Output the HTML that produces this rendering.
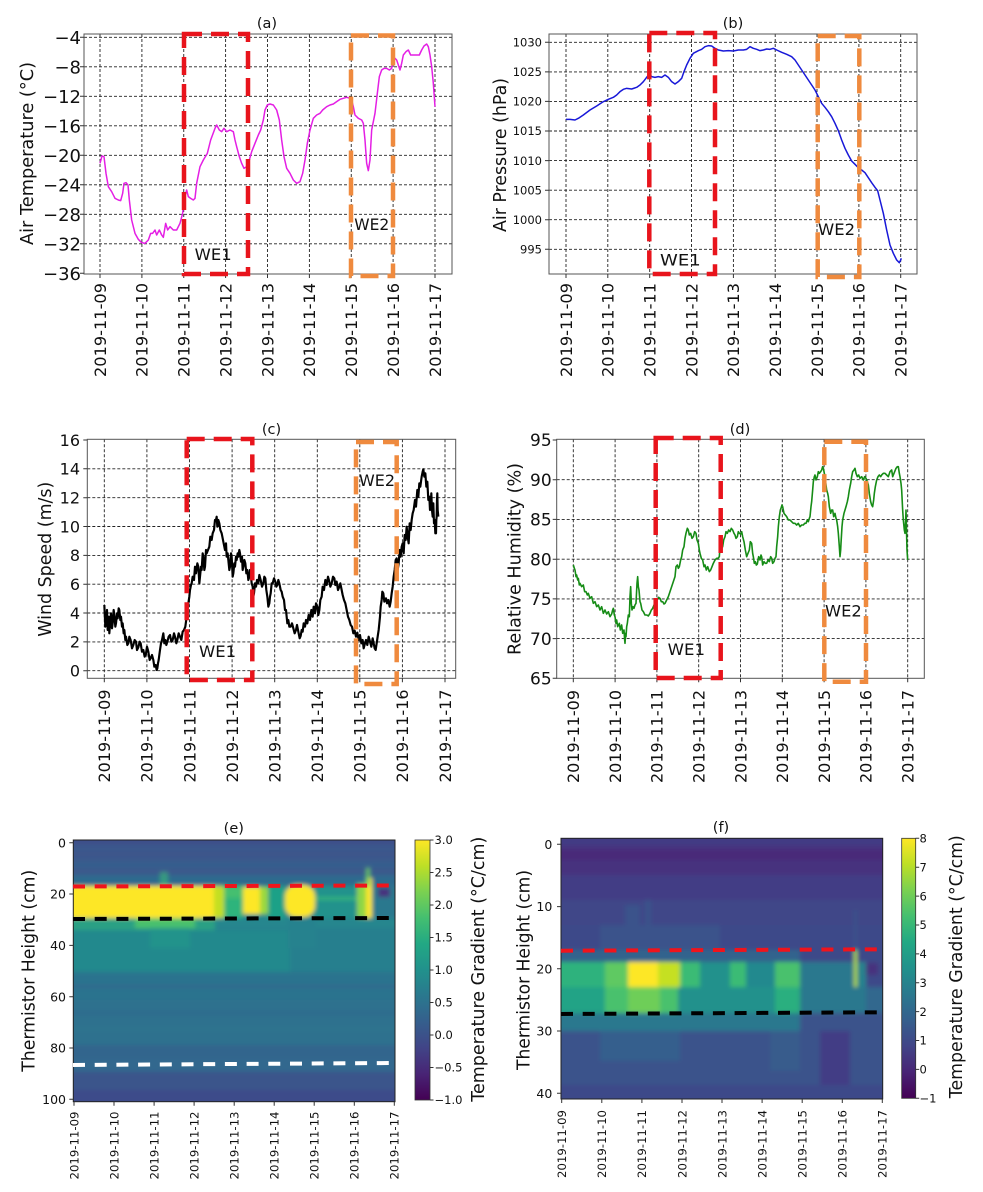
<!DOCTYPE html>
<html><head><meta charset="utf-8"><style>
html,body{margin:0;padding:0;background:#fff}
svg{display:block}
text{font-family:"DejaVu Sans","Liberation Sans",sans-serif;fill:#111}
</style></head><body>
<svg width="983" height="1192" viewBox="0 0 983 1192" xmlns="http://www.w3.org/2000/svg">
<defs>
<linearGradient id="vir" x1="0" y1="0" x2="0" y2="1">
<stop offset="0" stop-color="#fde725"/><stop offset="0.1" stop-color="#bddf26"/><stop offset="0.2" stop-color="#7ad151"/><stop offset="0.3" stop-color="#44bf70"/><stop offset="0.4" stop-color="#22a884"/><stop offset="0.5" stop-color="#21918c"/><stop offset="0.6" stop-color="#2a788e"/><stop offset="0.7" stop-color="#355f8d"/><stop offset="0.8" stop-color="#414487"/><stop offset="0.9" stop-color="#482475"/><stop offset="1" stop-color="#440154"/>
</linearGradient>
<clipPath id="ce"><rect x="73.3" y="840" width="321.7" height="261.7"/></clipPath>
<clipPath id="cf"><rect x="561" y="838.3" width="321.7" height="260.7"/></clipPath>
<filter id="bl" x="-5%" y="-5%" width="110%" height="110%"><feGaussianBlur stdDeviation="2.2"/></filter>
</defs>
<rect width="983" height="1192" fill="#fff"/>

<!-- ================= (a) ================= -->
<g>
<path d="M100 34V274M141.9 34V274M183.75 34V274M225.6 34V274M267.5 34V274M309.4 34V274M351.25 34V274M393.1 34V274M435 34V274M84 37.3H452M84 66.8H452M84 96.3H452M84 125.8H452M84 155.3H452M84 184.8H452M84 214.3H452M84 243.8H452" stroke="#222" stroke-width="0.9" stroke-dasharray="3,2" fill="none"/>
<polyline transform="scale(0.33333)" fill="none" stroke="#e41fe4" stroke-width="4.5" stroke-linejoin="round" points="300,490 306,468 312,470 318,520 325,560 335,575 345,595 355,600 362,602 368,580 372,550 378,548 384,555 388,600 395,660 405,700 415,718 425,728 435,730 445,720 452,700 458,700 465,690 470,705 478,690 485,705 490,712 497,670 503,690 510,680 520,690 530,690 540,670 548,640 552,600 560,570 565,590 572,595 580,600 585,595 590,550 600,500 610,480 622,460 632,420 645,385 650,375 658,390 665,395 672,385 680,395 690,390 700,395 705,420 710,440 718,470 725,490 732,505 740,500 748,480 755,455 765,430 775,405 782,390 790,360 795,330 802,315 810,312 820,315 830,330 838,360 845,420 852,470 860,505 870,520 880,540 890,550 900,545 908,520 915,480 922,430 930,390 940,355 950,345 960,340 968,330 980,320 990,315 1000,312 1010,305 1020,298 1030,295 1040,292 1050,295 1055,300 1060,320 1065,345 1075,355 1085,360 1090,370 1095,420 1100,490 1105,512 1110,480 1115,390 1125,340 1132,280 1138,230 1145,210 1152,205 1160,205 1168,210 1175,205 1180,180 1185,175 1190,180 1195,195 1200,210 1205,190 1210,165 1218,155 1225,150 1232,165 1240,165 1250,165 1258,165 1265,150 1272,138 1280,132 1285,140 1290,165 1295,200 1300,250 1305,320"/>
<rect x="84" y="34" width="368" height="240" fill="none" stroke="#555" stroke-width="1"/>
<path d="M100 274v4M141.9 274v4M183.75 274v4M225.6 274v4M267.5 274v4M309.4 274v4M351.25 274v4M393.1 274v4M435 274v4M84 37.3h-4M84 66.8h-4M84 96.3h-4M84 125.8h-4M84 155.3h-4M84 184.8h-4M84 214.3h-4M84 243.8h-4M84 273.3h-4" stroke="#333" stroke-width="1"/>
<rect x="184" y="34" width="64" height="240" fill="none" stroke="#e8141c" stroke-width="4.5" stroke-dasharray="18,9"/>
<rect x="351" y="35.5" width="42" height="240.5" fill="none" stroke="#ef8a3e" stroke-width="4.5" stroke-dasharray="18,9"/>
<g font-size="18" text-anchor="end">
<text x="81" y="43.9">−4</text><text x="81" y="73.4">−8</text><text x="81" y="102.9">−12</text><text x="81" y="132.4">−16</text><text x="81" y="161.9">−20</text><text x="81" y="191.4">−24</text><text x="81" y="220.9">−28</text><text x="81" y="250.4">−32</text><text x="81" y="279.9">−36</text>
</g>
<g font-size="16" text-anchor="end">
<text transform="translate(105.8,283) rotate(-90)" textLength="94" lengthAdjust="spacingAndGlyphs">2019-11-09</text>
<text transform="translate(147.7,283) rotate(-90)" textLength="94" lengthAdjust="spacingAndGlyphs">2019-11-10</text>
<text transform="translate(189.5,283) rotate(-90)" textLength="94" lengthAdjust="spacingAndGlyphs">2019-11-11</text>
<text transform="translate(231.4,283) rotate(-90)" textLength="94" lengthAdjust="spacingAndGlyphs">2019-11-12</text>
<text transform="translate(273.3,283) rotate(-90)" textLength="94" lengthAdjust="spacingAndGlyphs">2019-11-13</text>
<text transform="translate(315.2,283) rotate(-90)" textLength="94" lengthAdjust="spacingAndGlyphs">2019-11-14</text>
<text transform="translate(357,283) rotate(-90)" textLength="94" lengthAdjust="spacingAndGlyphs">2019-11-15</text>
<text transform="translate(398.9,283) rotate(-90)" textLength="94" lengthAdjust="spacingAndGlyphs">2019-11-16</text>
<text transform="translate(440.8,283) rotate(-90)" textLength="94" lengthAdjust="spacingAndGlyphs">2019-11-17</text>
</g>
<text transform="translate(33,153.5) rotate(-90)" font-size="17.5" text-anchor="middle" textLength="183" lengthAdjust="spacingAndGlyphs">Air Temperature (°C)</text>
<text x="267" y="28" font-size="14.5" text-anchor="middle">(a)</text>
<text x="194.7" y="260" font-size="16" textLength="37" lengthAdjust="spacingAndGlyphs">WE1</text>
<text x="354.3" y="230" font-size="16" textLength="35" lengthAdjust="spacingAndGlyphs">WE2</text>
</g>

<!-- ================= (b) ================= -->
<g>
<path d="M566 34V274M607.8 34V274M649.7 34V274M691.5 34V274M733.4 34V274M775.2 34V274M817 34V274M858.9 34V274M900.7 34V274M549 42.3H917M549 71.9H917M549 101.4H917M549 131H917M549 160.6H917M549 190.2H917M549 219.7H917M549 249.3H917" stroke="#222" stroke-width="0.9" stroke-dasharray="3,2" fill="none"/>
<polyline transform="translate(480,0) scale(0.33333)" fill="none" stroke="#1818d8" stroke-width="4.5" stroke-linejoin="round" points="258,358 270,358 285,360 295,355 310,345 330,330 350,318 370,305 385,298 400,292 410,285 420,275 430,268 440,265 455,267 470,262 480,255 490,245 500,232 508,222 515,230 525,232 535,230 545,232 555,225 565,232 575,245 585,252 595,245 605,235 612,215 620,195 630,175 640,160 655,152 665,148 675,140 685,137 695,138 705,145 715,150 730,153 745,152 760,153 775,150 790,150 800,148 810,140 820,145 830,148 840,152 850,150 860,147 870,148 880,145 890,150 905,157 920,163 935,170 945,180 955,195 965,210 975,225 985,240 995,255 1005,270 1015,290 1025,310 1035,322 1045,335 1055,350 1065,370 1075,392 1085,420 1095,445 1105,465 1115,483 1125,493 1135,503 1145,510 1155,518 1165,533 1175,548 1185,562 1193,572 1200,600 1210,640 1220,690 1230,735 1240,760 1250,780 1258,788 1262,780 1264,775"/>
<rect x="549" y="34" width="368" height="240" fill="none" stroke="#555" stroke-width="1"/>
<path d="M566 274v4M607.8 274v4M649.7 274v4M691.5 274v4M733.4 274v4M775.2 274v4M817 274v4M858.9 274v4M900.7 274v4M549 42.3h-4M549 71.9h-4M549 101.4h-4M549 131h-4M549 160.6h-4M549 190.2h-4M549 219.7h-4M549 249.3h-4" stroke="#333" stroke-width="1"/>
<rect x="649.3" y="33" width="65.7" height="241" fill="none" stroke="#e8141c" stroke-width="4.5" stroke-dasharray="18,9"/>
<rect x="817.7" y="36" width="41.6" height="241" fill="none" stroke="#ef8a3e" stroke-width="4.5" stroke-dasharray="18,9"/>
<g font-size="11.5" text-anchor="end">
<text x="542" y="46.5">1030</text><text x="542" y="76.1">1025</text><text x="542" y="105.6">1020</text><text x="542" y="135.2">1015</text><text x="542" y="164.8">1010</text><text x="542" y="194.4">1005</text><text x="542" y="223.9">1000</text><text x="542" y="253.5">995</text>
</g>
<g font-size="16" text-anchor="end">
<text transform="translate(571.8,283) rotate(-90)" textLength="94" lengthAdjust="spacingAndGlyphs">2019-11-09</text>
<text transform="translate(613.6,283) rotate(-90)" textLength="94" lengthAdjust="spacingAndGlyphs">2019-11-10</text>
<text transform="translate(655.5,283) rotate(-90)" textLength="94" lengthAdjust="spacingAndGlyphs">2019-11-11</text>
<text transform="translate(697.3,283) rotate(-90)" textLength="94" lengthAdjust="spacingAndGlyphs">2019-11-12</text>
<text transform="translate(739.2,283) rotate(-90)" textLength="94" lengthAdjust="spacingAndGlyphs">2019-11-13</text>
<text transform="translate(781,283) rotate(-90)" textLength="94" lengthAdjust="spacingAndGlyphs">2019-11-14</text>
<text transform="translate(822.8,283) rotate(-90)" textLength="94" lengthAdjust="spacingAndGlyphs">2019-11-15</text>
<text transform="translate(864.7,283) rotate(-90)" textLength="94" lengthAdjust="spacingAndGlyphs">2019-11-16</text>
<text transform="translate(906.5,283) rotate(-90)" textLength="94" lengthAdjust="spacingAndGlyphs">2019-11-17</text>
</g>
<text transform="translate(506,155) rotate(-90)" font-size="17.5" text-anchor="middle" textLength="154" lengthAdjust="spacingAndGlyphs">Air Pressure (hPa)</text>
<text x="733" y="28" font-size="14.5" text-anchor="middle">(b)</text>
<text x="660" y="265.5" font-size="16" textLength="40.7" lengthAdjust="spacingAndGlyphs">WE1</text>
<text x="818" y="235" font-size="16" textLength="37" lengthAdjust="spacingAndGlyphs">WE2</text>
</g>

<!-- ================= (c) ================= -->
<g>
<path d="M104.3 439.3V678.3M146.9 439.3V678.3M189.5 439.3V678.3M232.1 439.3V678.3M274.7 439.3V678.3M317.3 439.3V678.3M359.8 439.3V678.3M402.4 439.3V678.3M445 439.3V678.3M87.3 468.8H455.7M87.3 497.7H455.7M87.3 526.5H455.7M87.3 555.4H455.7M87.3 584.2H455.7M87.3 613H455.7M87.3 641.9H455.7M87.3 670.7H455.7" stroke="#222" stroke-width="0.9" stroke-dasharray="3,2" fill="none"/>
<polyline transform="translate(0,410) scale(0.33333)" fill="none" stroke="#000" stroke-width="6.5" stroke-linejoin="round" points="313,585 316,650 318,640 321,600 323,660 326,620 328,670 331,630 333,610 336,655 338,640 341,600 343,615 346,650 348,640 351,610 353,625 356,595 358,600 361,630 363,620 366,650 368,640 371,670 373,660 376,690 378,680 382,705 385,700 388,680 392,690 396,715 400,705 404,690 408,695 411,720 415,712 419,695 422,700 426,725 430,720 434,740 438,730 441,710 445,725 449,750 452,745 456,735 460,750 463,770 467,765 470,780 472,775 474,760 476,750 478,735 480,720 483,700 486,690 488,680 490,670 493,700 496,690 499,705 502,695 506,680 510,675 514,695 518,690 522,670 525,680 529,700 532,690 536,670 540,680 544,690 548,665 552,660 556,650 558,635 560,620 563,590 565,580 568,560 570,540 573,525 575,520 578,500 582,510 585,470 588,490 592,460 595,470 598,520 600,500 603,470 605,480 608,430 610,440 613,480 615,470 618,420 620,430 624,420 628,410 631,380 635,390 638,370 642,360 645,330 648,330 650,320 652,350 655,330 658,340 661,360 665,370 668,385 670,395 673,410 675,420 678,400 680,440 683,430 685,450 688,480 690,470 693,430 695,440 698,500 700,490 703,460 705,470 708,440 710,450 713,430 715,440 718,420 720,430 723,455 726,440 728,480 730,470 733,450 736,460 739,490 742,480 745,510 748,500 750,480 752,490 755,520 758,530 760,560 762,550 765,520 768,530 771,510 775,520 778,495 782,510 786,530 790,520 793,500 796,505 799,540 802,560 805,590 808,580 810,560 812,550 815,520 818,520 822,505 826,515 829,530 832,525 835,510 838,520 842,540 845,545 848,560 852,570 855,600 858,600 862,640 865,630 868,650 872,650 876,640 880,655 884,670 888,660 891,645 895,665 899,685 902,678 905,660 908,665 911,640 915,650 918,630 922,640 926,615 930,630 934,600 938,620 941,590 945,610 948,580 952,590 955,615 958,600 961,570 965,560 968,530 972,540 976,510 980,525 984,500 988,515 991,530 995,520 999,500 1003,505 1006,525 1010,515 1014,540 1018,530 1021,520 1025,540 1028,555 1032,570 1036,580 1040,600 1044,620 1048,630 1052,645 1056,650 1060,670 1064,662 1068,680 1072,668 1076,690 1080,675 1084,700 1088,690 1091,715 1095,700 1098,690 1102,705 1106,680 1110,695 1114,710 1118,685 1121,700 1124,715 1127,720 1130,700 1133,680 1136,660 1138,640 1140,620 1142,590 1145,570 1147,545 1150,550 1153,575 1158,565 1161,580 1165,570 1169,590 1172,575 1175,550 1178,530 1181,500 1184,480 1187,450 1190,445 1193,480 1196,460 1199,420 1202,440 1205,410 1208,400 1211,430 1214,375 1217,390 1220,350 1223,380 1226,400 1229,340 1232,360 1235,330 1238,310 1241,300 1245,270 1248,290 1252,240 1255,260 1258,220 1261,230 1265,200 1268,185 1270,178 1273,200 1276,190 1279,230 1282,215 1285,270 1288,260 1290,300 1292,290 1294,250 1296,300 1298,320 1300,280 1302,340 1304,330 1306,370 1308,370 1309,330 1310,320 1311,270 1312,250 1313,300 1315,320"/>
<rect x="87.3" y="439.3" width="368.4" height="239" fill="none" stroke="#555" stroke-width="1"/>
<path d="M104.3 678.3v4M146.9 678.3v4M189.5 678.3v4M232.1 678.3v4M274.7 678.3v4M317.3 678.3v4M359.8 678.3v4M402.4 678.3v4M445 678.3v4M87.3 440h-4M87.3 468.8h-4M87.3 497.7h-4M87.3 526.5h-4M87.3 555.4h-4M87.3 584.2h-4M87.3 613h-4M87.3 641.9h-4M87.3 670.7h-4" stroke="#333" stroke-width="1"/>
<rect x="186.7" y="439" width="65.6" height="241" fill="none" stroke="#e8141c" stroke-width="4.5" stroke-dasharray="18,9"/>
<rect x="356" y="442" width="40.7" height="242" fill="none" stroke="#ef8a3e" stroke-width="4.5" stroke-dasharray="18,9"/>
<g font-size="16" text-anchor="end">
<text x="80" y="445.8">16</text><text x="80" y="474.6">14</text><text x="80" y="503.5">12</text><text x="80" y="532.3">10</text><text x="80" y="561.2">8</text><text x="80" y="590">6</text><text x="80" y="618.8">4</text><text x="80" y="647.7">2</text><text x="80" y="676.5">0</text>
</g>
<g font-size="16" text-anchor="end">
<text transform="translate(110.1,689.5) rotate(-90)" textLength="93" lengthAdjust="spacingAndGlyphs">2019-11-09</text>
<text transform="translate(152.7,689.5) rotate(-90)" textLength="93" lengthAdjust="spacingAndGlyphs">2019-11-10</text>
<text transform="translate(195.3,689.5) rotate(-90)" textLength="93" lengthAdjust="spacingAndGlyphs">2019-11-11</text>
<text transform="translate(237.9,689.5) rotate(-90)" textLength="93" lengthAdjust="spacingAndGlyphs">2019-11-12</text>
<text transform="translate(280.5,689.5) rotate(-90)" textLength="93" lengthAdjust="spacingAndGlyphs">2019-11-13</text>
<text transform="translate(323.1,689.5) rotate(-90)" textLength="93" lengthAdjust="spacingAndGlyphs">2019-11-14</text>
<text transform="translate(365.6,689.5) rotate(-90)" textLength="93" lengthAdjust="spacingAndGlyphs">2019-11-15</text>
<text transform="translate(408.2,689.5) rotate(-90)" textLength="93" lengthAdjust="spacingAndGlyphs">2019-11-16</text>
<text transform="translate(450.8,689.5) rotate(-90)" textLength="93" lengthAdjust="spacingAndGlyphs">2019-11-17</text>
</g>
<text transform="translate(51,559.2) rotate(-90)" font-size="17.5" text-anchor="middle" textLength="155" lengthAdjust="spacingAndGlyphs">Wind Speed (m/s)</text>
<text x="271.5" y="434" font-size="14.5" text-anchor="middle">(c)</text>
<text x="199" y="657" font-size="16" textLength="37" lengthAdjust="spacingAndGlyphs">WE1</text>
<text x="359" y="486" font-size="16" textLength="36" lengthAdjust="spacingAndGlyphs">WE2</text>
</g>

<!-- ================= (d) ================= -->
<g>
<path d="M573.3 439.3V678.3M615.1 439.3V678.3M656.9 439.3V678.3M698.7 439.3V678.3M740.5 439.3V678.3M782.3 439.3V678.3M824.1 439.3V678.3M865.9 439.3V678.3M907.7 439.3V678.3M556.7 479.7H924.3M556.7 519.4H924.3M556.7 559.2H924.3M556.7 598.9H924.3M556.7 638.6H924.3" stroke="#222" stroke-width="0.9" stroke-dasharray="3,2" fill="none"/>
<polyline transform="translate(480,410) scale(0.33333)" fill="none" stroke="#168c16" stroke-width="4.8" stroke-linejoin="round" points="280,465 283,475 285,480 288,500 290,495 293,510 295,505 298,525 300,520 305,530 310,525 314,545 318,545 322,555 325,550 330,565 335,560 340,580 345,575 350,590 355,585 360,600 365,590 370,610 375,600 380,612 385,605 390,620 395,612 398,600 400,595 403,615 405,620 408,640 410,630 413,650 418,640 421,660 425,645 428,670 432,660 434,690 435,700 437,670 438,680 440,650 442,640 445,615 448,620 450,560 452,530 454,580 456,600 459,590 462,595 465,585 468,580 471,520 473,500 475,530 477,540 480,575 482,580 486,600 490,605 495,615 500,615 505,618 510,610 514,600 518,595 522,585 525,580 528,570 532,568 536,562 540,565 544,575 548,575 552,582 555,580 560,570 565,560 570,545 575,530 580,515 585,500 588,470 592,465 595,475 598,470 602,450 605,440 608,420 612,410 615,385 618,370 622,355 625,360 628,375 632,370 636,385 640,380 644,365 648,370 651,390 655,400 658,420 660,430 664,445 668,450 672,470 675,465 679,480 683,470 688,485 692,480 696,470 700,460 705,450 710,445 714,445 718,440 720,410 722,400 725,415 728,410 731,390 735,380 738,365 742,370 746,360 750,365 754,355 758,360 762,370 765,375 768,385 772,380 775,365 778,370 782,372 785,365 788,380 792,395 796,420 800,440 804,430 808,420 811,395 815,400 818,430 820,440 823,460 826,455 829,465 832,462 836,440 840,450 843,435 845,440 848,465 852,455 856,460 860,460 864,450 868,455 872,440 875,445 878,460 882,455 885,445 888,440 890,410 893,380 895,350 898,320 901,300 903,295 906,285 908,290 910,300 912,310 916,315 920,320 925,330 930,330 935,335 940,340 945,340 950,345 955,340 960,350 965,345 970,345 974,340 978,340 982,330 985,335 988,325 990,320 993,290 995,275 998,240 1000,215 1003,200 1005,195 1008,210 1012,200 1015,185 1018,190 1022,185 1025,180 1028,170 1030,175 1033,190 1035,200 1038,225 1040,240 1043,250 1045,260 1048,290 1052,310 1055,300 1058,300 1061,320 1065,310 1068,325 1070,330 1073,350 1075,370 1078,410 1080,440 1082,420 1083,400 1086,350 1088,330 1090,320 1092,310 1095,300 1098,290 1102,275 1105,260 1108,240 1112,220 1115,200 1118,185 1122,180 1125,175 1128,190 1132,200 1136,195 1140,205 1145,200 1150,210 1154,200 1158,205 1162,215 1165,225 1168,250 1172,275 1175,285 1178,290 1181,270 1183,250 1186,230 1190,210 1194,200 1198,195 1202,200 1205,195 1210,190 1215,190 1220,195 1225,200 1230,185 1235,180 1238,200 1240,195 1244,185 1248,175 1252,170 1255,170 1258,190 1260,200 1263,220 1265,240 1268,300 1270,330 1273,360 1275,370 1277,330 1278,300 1280,380 1281,420 1283,450"/>
<rect x="556.7" y="439.3" width="367.6" height="239" fill="none" stroke="#555" stroke-width="1"/>
<path d="M573.3 678.3v4M615.1 678.3v4M656.9 678.3v4M698.7 678.3v4M740.5 678.3v4M782.3 678.3v4M824.1 678.3v4M865.9 678.3v4M907.7 678.3v4M556.7 440h-4M556.7 479.7h-4M556.7 519.4h-4M556.7 559.2h-4M556.7 598.9h-4M556.7 638.6h-4M556.7 678.3h-4" stroke="#333" stroke-width="1"/>
<rect x="655.7" y="438" width="65" height="240" fill="none" stroke="#e8141c" stroke-width="4.5" stroke-dasharray="18,9"/>
<rect x="824.3" y="441.7" width="41.7" height="240" fill="none" stroke="#ef8a3e" stroke-width="4.5" stroke-dasharray="18,9"/>
<g font-size="17" text-anchor="end">
<text x="551.7" y="446.2">95</text><text x="551.7" y="485.9">90</text><text x="551.7" y="525.6">85</text><text x="551.7" y="565.4">80</text><text x="551.7" y="605.1">75</text><text x="551.7" y="644.8">70</text><text x="551.7" y="684.5">65</text>
</g>
<g font-size="16" text-anchor="end">
<text transform="translate(579.1,690) rotate(-90)" textLength="93" lengthAdjust="spacingAndGlyphs">2019-11-09</text>
<text transform="translate(620.9,690) rotate(-90)" textLength="93" lengthAdjust="spacingAndGlyphs">2019-11-10</text>
<text transform="translate(662.7,690) rotate(-90)" textLength="93" lengthAdjust="spacingAndGlyphs">2019-11-11</text>
<text transform="translate(704.5,690) rotate(-90)" textLength="93" lengthAdjust="spacingAndGlyphs">2019-11-12</text>
<text transform="translate(746.3,690) rotate(-90)" textLength="93" lengthAdjust="spacingAndGlyphs">2019-11-13</text>
<text transform="translate(788.1,690) rotate(-90)" textLength="93" lengthAdjust="spacingAndGlyphs">2019-11-14</text>
<text transform="translate(829.9,690) rotate(-90)" textLength="93" lengthAdjust="spacingAndGlyphs">2019-11-15</text>
<text transform="translate(871.7,690) rotate(-90)" textLength="93" lengthAdjust="spacingAndGlyphs">2019-11-16</text>
<text transform="translate(913.5,690) rotate(-90)" textLength="93" lengthAdjust="spacingAndGlyphs">2019-11-17</text>
</g>
<text transform="translate(520.3,559) rotate(-90)" font-size="17.5" text-anchor="middle" textLength="192" lengthAdjust="spacingAndGlyphs">Relative Humidity (%)</text>
<text x="740" y="434" font-size="14.5" text-anchor="middle">(d)</text>
<text x="667.7" y="655" font-size="16" textLength="37.3" lengthAdjust="spacingAndGlyphs">WE1</text>
<text x="825" y="616.7" font-size="16" textLength="36.7" lengthAdjust="spacingAndGlyphs">WE2</text>
</g>

<!-- ================= (e) heatmap ================= -->
<g clip-path="url(#ce)">
<g filter="url(#bl)">
<rect x="60" y="830" width="350" height="290" fill="#2c728e"/>
<rect x="60" y="830" width="350" height="46" fill="#3a598c"/>
<rect x="60" y="830" width="350" height="15" fill="#3e4f8a"/>
<rect x="60" y="852" width="350" height="4" fill="#3d548b"/>
<rect x="60" y="862" width="350" height="6" fill="#365f8d"/>
<rect x="60" y="875" width="350" height="11" fill="#2f6a8e"/>
<rect x="60" y="886" width="350" height="32" fill="#23898e"/>
<rect x="60" y="918" width="350" height="10" fill="#25868e"/>
<rect x="60" y="928" width="350" height="44" fill="#277f8e"/>
<rect x="60" y="930" width="230" height="42" fill="#22898d"/>
<rect x="60" y="972" width="350" height="28" fill="#2c738e"/>
<rect x="60" y="985" width="350" height="3" fill="#31688e"/>
<rect x="60" y="1000" width="350" height="45" fill="#2d718e"/>
<rect x="60" y="1012" width="350" height="2" fill="#33658d"/>
<rect x="60" y="1028" width="350" height="2" fill="#2a788e"/>
<rect x="60" y="1045" width="350" height="13" fill="#33658d"/>
<rect x="60" y="1058" width="350" height="14" fill="#31688e"/>
<rect x="60" y="1072" width="350" height="48" fill="#3b548b"/>
<rect x="60" y="1090" width="350" height="30" fill="#3e4c8a"/>
<!-- below yellow band -->
<rect x="60" y="918" width="155" height="12" fill="#2ba084"/>
<rect x="135" y="918" width="60" height="10" fill="#4ac16d"/>
<rect x="150" y="928" width="40" height="20" fill="#24938b"/>
<rect x="288" y="918" width="28" height="30" fill="#26828e"/>
<!-- yellow band -->
<rect x="60" y="886" width="154" height="32" fill="#fde725"/>
<rect x="214" y="886" width="10" height="32" fill="#c2df23"/>
<rect x="224" y="886" width="19" height="32" fill="#2fb47c"/>
<rect x="224" y="886" width="19" height="12" fill="#44bf70"/>
<rect x="243" y="887" width="17" height="27" fill="#fde725"/>
<rect x="260" y="887" width="8" height="27" fill="#9bd93c"/>
<rect x="268" y="886" width="17" height="32" fill="#1fa187"/>
<rect x="285" y="885" width="30" height="32" rx="11" fill="#fde725"/>
<rect x="315" y="886" width="42" height="32" fill="#20928c"/>
<rect x="315" y="897" width="42" height="3" fill="#35b779"/>
<rect x="357" y="884" width="9" height="34" fill="#8fd744"/>
<rect x="366" y="878" width="6" height="40" fill="#fde725"/>
<rect x="373" y="886" width="40" height="32" fill="#2a788e"/>
<rect x="378" y="888" width="12" height="9" fill="#46327e"/>
<rect x="160" y="872" width="8" height="14" fill="#3aba76" opacity="0.6"/>
<rect x="366" y="868" width="4" height="18" fill="#6ece58" opacity="0.8"/>
</g>
</g>
<rect x="73.3" y="840" width="321.7" height="261.7" fill="none" stroke="#222" stroke-width="1"/>
<line x1="73" y1="886.5" x2="392" y2="885.5" stroke="#f0141c" stroke-width="4" stroke-dasharray="12,9.7"/>
<line x1="73" y1="919" x2="392" y2="918" stroke="#000" stroke-width="4" stroke-dasharray="12,9.7"/>
<line x1="73" y1="1065" x2="392" y2="1063" stroke="#fff" stroke-width="4" stroke-dasharray="12,9.7"/>
<path d="M74 1101.7v4M114 1101.7v4M154.1 1101.7v4M194.1 1101.7v4M234.2 1101.7v4M274.2 1101.7v4M314.2 1101.7v4M354.3 1101.7v4M394.3 1101.7v4M73.3 842.7h-4M73.3 894h-4M73.3 945.4h-4M73.3 996.7h-4M73.3 1048h-4M73.3 1099.3h-4" stroke="#333" stroke-width="1"/>
<g font-size="12.5" text-anchor="end">
<text x="66" y="847.3">0</text><text x="66" y="898.6">20</text><text x="66" y="950">40</text><text x="66" y="1001.3">60</text><text x="66" y="1052.6">80</text><text x="66" y="1103.9">100</text>
</g>
<g font-size="11.7" text-anchor="end">
<text transform="translate(78.3,1111.5) rotate(-90)" textLength="68" lengthAdjust="spacingAndGlyphs">2019-11-09</text>
<text transform="translate(118.3,1111.5) rotate(-90)" textLength="68" lengthAdjust="spacingAndGlyphs">2019-11-10</text>
<text transform="translate(158.4,1111.5) rotate(-90)" textLength="68" lengthAdjust="spacingAndGlyphs">2019-11-11</text>
<text transform="translate(198.4,1111.5) rotate(-90)" textLength="68" lengthAdjust="spacingAndGlyphs">2019-11-12</text>
<text transform="translate(238.5,1111.5) rotate(-90)" textLength="68" lengthAdjust="spacingAndGlyphs">2019-11-13</text>
<text transform="translate(278.5,1111.5) rotate(-90)" textLength="68" lengthAdjust="spacingAndGlyphs">2019-11-14</text>
<text transform="translate(318.5,1111.5) rotate(-90)" textLength="68" lengthAdjust="spacingAndGlyphs">2019-11-15</text>
<text transform="translate(358.6,1111.5) rotate(-90)" textLength="68" lengthAdjust="spacingAndGlyphs">2019-11-16</text>
<text transform="translate(398.6,1111.5) rotate(-90)" textLength="68" lengthAdjust="spacingAndGlyphs">2019-11-17</text>
</g>
<text transform="translate(34.3,970.8) rotate(-90)" font-size="17.5" text-anchor="middle" textLength="202" lengthAdjust="spacingAndGlyphs">Thermistor Height (cm)</text>
<text x="233.8" y="833" font-size="14.5" text-anchor="middle">(e)</text>
<!-- colorbar e -->
<rect x="415" y="840" width="15" height="260" fill="url(#vir)" stroke="#333" stroke-width="0.8"/>
<path d="M430 840h3.5M430 872.5h3.5M430 905h3.5M430 937.5h3.5M430 970h3.5M430 1002.5h3.5M430 1035h3.5M430 1067.5h3.5M430 1100h3.5" stroke="#333" stroke-width="1"/>
<g font-size="11.5">
<text x="434.5" y="844.2">3.0</text><text x="434.5" y="876.7">2.5</text><text x="434.5" y="909.2">2.0</text><text x="434.5" y="941.7">1.5</text><text x="434.5" y="974.2">1.0</text><text x="434.5" y="1006.7">0.5</text><text x="434.5" y="1039.2">0.0</text><text x="434.5" y="1071.7">−0.5</text><text x="434.5" y="1104.2">−1.0</text>
</g>
<text transform="translate(484,969.2) rotate(-90)" font-size="17.5" text-anchor="middle" textLength="265" lengthAdjust="spacingAndGlyphs">Temperature Gradient (°C/cm)</text>

<!-- ================= (f) heatmap ================= -->
<g clip-path="url(#cf)">
<g filter="url(#bl)">
<rect x="550" y="830" width="345" height="280" fill="#3e4989"/>
<rect x="550" y="830" width="345" height="45" fill="#46317e"/>
<rect x="550" y="830" width="345" height="16" fill="#433b84"/>
<rect x="550" y="850" width="345" height="10" fill="#482a79"/>
<rect x="550" y="875" width="345" height="25" fill="#433d85"/>
<rect x="550" y="900" width="345" height="25" fill="#3f4788"/>
<rect x="550" y="925" width="345" height="25" fill="#3e4a89"/>
<rect x="600" y="925" width="120" height="25" fill="#3b528b"/>
<rect x="625" y="905" width="15" height="45" fill="#3b528b"/>
<rect x="645" y="900" width="6" height="50" fill="#3b528b"/>
<rect x="854" y="910" width="3" height="40" fill="#3b528b"/>
<rect x="550" y="950" width="250" height="12" fill="#33638d"/>
<rect x="800" y="950" width="95" height="12" fill="#3e4a89"/>
<!-- rows 19-23 -->
<rect x="550" y="962" width="55" height="25" fill="#2db27d"/>
<rect x="605" y="962" width="23" height="25" fill="#5ec962"/>
<rect x="628" y="962" width="30" height="25" fill="#fde725"/>
<rect x="658" y="962" width="22" height="25" fill="#c5e021"/>
<rect x="680" y="962" width="20" height="25" fill="#3bbb75"/>
<rect x="700" y="962" width="30" height="25" fill="#21918c"/>
<rect x="730" y="962" width="16" height="25" fill="#3bbb75"/>
<rect x="746" y="962" width="29" height="25" fill="#23898e"/>
<rect x="775" y="962" width="25" height="25" fill="#4ac16d"/>
<rect x="800" y="962" width="55" height="25" fill="#2a788e"/>
<rect x="854" y="950" width="3" height="37" fill="#b5de2b"/>
<rect x="857" y="962" width="9" height="25" fill="#26828e"/>
<rect x="866" y="962" width="30" height="25" fill="#3e4a89"/>
<rect x="866" y="963" width="12" height="12" fill="#46327e"/>
<!-- rows 23-27 -->
<rect x="550" y="987" width="55" height="26" fill="#20a386"/>
<rect x="605" y="987" width="73" height="26" fill="#4ac16d"/>
<rect x="628" y="987" width="32" height="26" fill="#6ece58"/>
<rect x="678" y="987" width="97" height="26" fill="#21918c"/>
<rect x="775" y="987" width="25" height="26" fill="#29af7f"/>
<rect x="800" y="987" width="95" height="26" fill="#2a788e"/>
<rect x="866" y="987" width="30" height="26" fill="#31688e"/>
<!-- rows 27-30 -->
<rect x="550" y="1013" width="250" height="18" fill="#2a788e"/>
<rect x="800" y="1013" width="95" height="18" fill="#3b528b"/>
<!-- bottom -->
<rect x="550" y="1031" width="345" height="80" fill="#3b528b"/>
<rect x="600" y="1031" width="80" height="30" fill="#355f8d"/>
<rect x="770" y="1031" width="30" height="40" fill="#375c8c"/>
<rect x="820" y="1031" width="30" height="70" fill="#433e85"/>
<rect x="550" y="1085" width="345" height="25" fill="#3e4989"/>
</g>
</g>
<rect x="561" y="838.3" width="321.7" height="260.7" fill="none" stroke="#222" stroke-width="1"/>
<line x1="561" y1="950.7" x2="880" y2="949.3" stroke="#f0141c" stroke-width="4" stroke-dasharray="12,9.7"/>
<line x1="561" y1="1014" x2="880" y2="1012.3" stroke="#000" stroke-width="4" stroke-dasharray="12,9.7"/>
<path d="M561.7 1099v4M601.8 1099v4M641.9 1099v4M682 1099v4M722 1099v4M762.1 1099v4M802.2 1099v4M842.3 1099v4M882.3 1099v4M561 844.3h-4M561 906.6h-4M561 968.8h-4M561 1031h-4M561 1093.3h-4" stroke="#333" stroke-width="1"/>
<g font-size="12.5" text-anchor="end">
<text x="552.3" y="848.9">0</text><text x="552.3" y="911.2">10</text><text x="552.3" y="973.4">20</text><text x="552.3" y="1035.6">30</text><text x="552.3" y="1097.9">40</text>
</g>
<g font-size="11.7" text-anchor="end">
<text transform="translate(566,1110) rotate(-90)" textLength="68" lengthAdjust="spacingAndGlyphs">2019-11-09</text>
<text transform="translate(606.1,1110) rotate(-90)" textLength="68" lengthAdjust="spacingAndGlyphs">2019-11-10</text>
<text transform="translate(646.2,1110) rotate(-90)" textLength="68" lengthAdjust="spacingAndGlyphs">2019-11-11</text>
<text transform="translate(686.3,1110) rotate(-90)" textLength="68" lengthAdjust="spacingAndGlyphs">2019-11-12</text>
<text transform="translate(726.3,1110) rotate(-90)" textLength="68" lengthAdjust="spacingAndGlyphs">2019-11-13</text>
<text transform="translate(766.4,1110) rotate(-90)" textLength="68" lengthAdjust="spacingAndGlyphs">2019-11-14</text>
<text transform="translate(806.5,1110) rotate(-90)" textLength="68" lengthAdjust="spacingAndGlyphs">2019-11-15</text>
<text transform="translate(846.6,1110) rotate(-90)" textLength="68" lengthAdjust="spacingAndGlyphs">2019-11-16</text>
<text transform="translate(886.6,1110) rotate(-90)" textLength="68" lengthAdjust="spacingAndGlyphs">2019-11-17</text>
</g>
<text transform="translate(529.3,970) rotate(-90)" font-size="17.5" text-anchor="middle" textLength="200" lengthAdjust="spacingAndGlyphs">Thermistor Height (cm)</text>
<text x="721" y="832" font-size="14.5" text-anchor="middle">(f)</text>
<!-- colorbar f -->
<rect x="901.7" y="838.3" width="14" height="260" fill="url(#vir)" stroke="#333" stroke-width="0.8"/>
<path d="M915.7 838.3h3.5M915.7 867.2h3.5M915.7 896.1h3.5M915.7 925h3.5M915.7 953.9h3.5M915.7 982.7h3.5M915.7 1011.6h3.5M915.7 1040.5h3.5M915.7 1069.4h3.5M915.7 1098.3h3.5" stroke="#333" stroke-width="1"/>
<g font-size="11.5">
<text x="919.5" y="842.5">8</text><text x="919.5" y="871.4">7</text><text x="919.5" y="900.3">6</text><text x="919.5" y="929.2">5</text><text x="919.5" y="958.1">4</text><text x="919.5" y="986.9">3</text><text x="919.5" y="1015.8">2</text><text x="919.5" y="1044.7">1</text><text x="919.5" y="1073.6">0</text><text x="919.5" y="1102.5">−1</text>
</g>
<text transform="translate(962,966.7) rotate(-90)" font-size="17.5" text-anchor="middle" textLength="263" lengthAdjust="spacingAndGlyphs">Temperature Gradient (°C/cm)</text>
</svg>
</body></html>
